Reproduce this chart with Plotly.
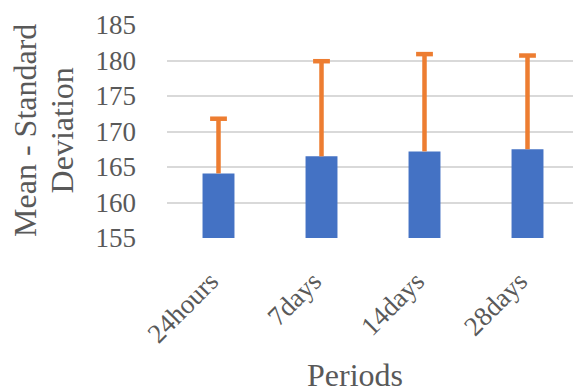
import plotly.graph_objects as go

categories = ["24hours", "7days", "14days", "28days"]
means = [164.1, 166.5, 167.2, 167.5]
sds = [7.7, 13.4, 13.7, 13.2]
y_ticks = [155, 160, 165, 170, 175, 180, 185]

FONT = "Liberation Serif"
TXT = "#595959"
ORANGE = "#ED7D31"

tops = [m + s for m, s in zip(means, sds)]
ex, ey = [], []
for c, m, t in zip(categories, means, tops):
    ex += [c, c, None]
    ey += [m, t, None]

fig = go.Figure()
fig.add_trace(go.Bar(
    x=categories, y=means,
    marker=dict(color="#4472C4", line=dict(width=0)),
))
fig.add_trace(go.Scatter(
    x=ex, y=ey, mode="lines",
    line=dict(color=ORANGE, width=4.5), hoverinfo="skip",
))
fig.add_trace(go.Scatter(
    x=categories, y=tops, mode="markers",
    marker=dict(symbol="line-ew", size=12, line=dict(color=ORANGE, width=4.5)),
    hoverinfo="skip",
))

fig.update_layout(
    width=581, height=391,
    margin=dict(l=159, r=10, t=17, b=161),
    paper_bgcolor="white", plot_bgcolor="white",
    bargap=0.69,
    showlegend=False,
    font=dict(family=FONT, color=TXT, size=27),
    xaxis=dict(tickangle=-45, showgrid=False, showline=False, ticks="",
               automargin=False, ticklabelstandoff=21, ticklabelshift=-8,
               tickfont=dict(family=FONT, size=27, color=TXT)),
    yaxis=dict(range=[155, 185], tickvals=y_ticks, showline=False,
               gridcolor="#D9D9D9", gridwidth=1.5, zeroline=False,
               ticks="", ticklabelstandoff=30, automargin=False,
               tickfont=dict(family=FONT, size=27, color=TXT)),
    annotations=[
        dict(text="Periods", xref="paper", yref="paper", x=0.456, y=-0.645,
             xanchor="center", yanchor="middle", showarrow=False,
             font=dict(family=FONT, size=32, color=TXT)),
        dict(text="Mean - Standard", xref="paper", yref="paper",
             x=-0.3435, y=0.505, xanchor="center", yanchor="middle",
             textangle=-90, showarrow=False,
             font=dict(family=FONT, size=32, color=TXT)),
        dict(text="Deviation", xref="paper", yref="paper",
             x=-0.2549, y=0.505, xanchor="center", yanchor="middle",
             textangle=-90, showarrow=False,
             font=dict(family=FONT, size=32, color=TXT)),
    ],
)

fig.write_html("out.html")
